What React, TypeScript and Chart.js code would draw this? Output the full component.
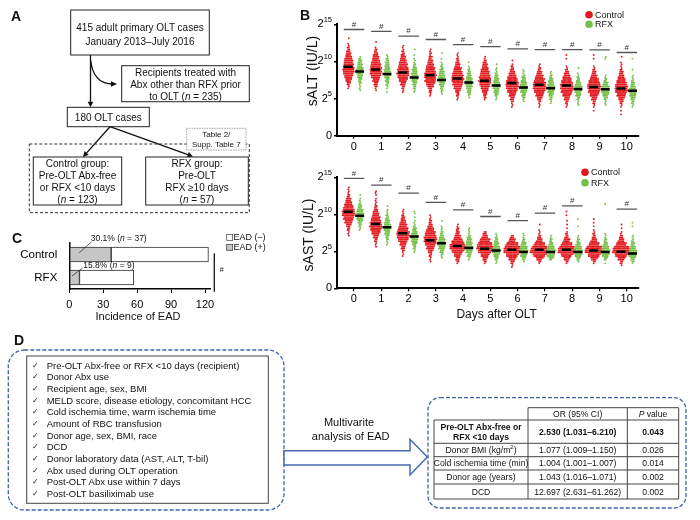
import React, { useEffect, useRef } from 'react';
import { Chart, registerables } from 'chart.js';
Chart.register(...registerables);

const FONT = '"Liberation Sans", Arial, Helvetica, sans-serif';

// ---------- Panel B data (values in log2 IU/L) ----------
const DAYS = [0, 1, 2, 3, 4, 5, 6, 7, 8, 9, 10];
const Y_TICKS = [0, 5, 10, 15];
const Y_EXPONENTS: (number | null)[] = [null, 5, 10, 15];

const ALT_CTRL_MEDIAN = [9.3, 8.9, 8.5, 8.15, 7.7, 7.4, 7.1, 6.85, 6.75, 6.55, 6.35];
const ALT_RFX_MEDIAN = [8.65, 8.3, 7.85, 7.5, 7.15, 6.75, 6.5, 6.4, 6.3, 6.25, 6.05];
const AST_CTRL_MEDIAN = [10.35, 8.7, 7.45, 6.5, 5.7, 5.35, 5.2, 5.2, 5.2, 5.1, 4.95];
const AST_RFX_MEDIAN = [9.8, 8.25, 7.0, 6.1, 5.45, 5.1, 4.9, 4.9, 4.9, 4.9, 4.7];

const ALT_SIG: (number | null)[] = [14.3, 14.05, 13.4, 12.95, 12.25, 12.0, 11.7, 11.6, 11.6, 11.55, 11.2];
const AST_SIG: (number | null)[] = [14.85, 13.95, 12.85, 11.6, 10.6, 9.7, 9.15, 10.15, 11.15, null, 10.7];

// dots per 0.25-high row: [lowest row value, count, count, ...]
const ALT_CTRL = [
  [6.375, 1, 1, 2, 3, 4, 5, 6, 7, 8, 9, 9, 9, 8, 8, 7, 7, 6, 5, 4, 4, 3, 2, 2, 1, 1, 0, 0, 1],
  [5.875, 0, 1, 1, 2, 3, 3, 5, 5, 7, 8, 9, 9, 9, 9, 8, 8, 7, 6, 5, 5, 4, 3, 2, 2, 1, 0, 0, 1],
  [5.875, 1, 1, 2, 2, 4, 4, 6, 7, 8, 9, 10, 9, 9, 8, 7, 7, 6, 5, 4, 4, 3, 2, 2, 1, 1, 1],
  [5.375, 1, 1, 2, 2, 3, 5, 6, 7, 9, 8, 9, 10, 9, 8, 7, 7, 6, 5, 4, 4, 2, 3, 1, 2, 1, 1],
  [4.875, 1, 1, 2, 2, 3, 4, 6, 6, 8, 8, 9, 10, 9, 9, 8, 7, 6, 6, 4, 4, 3, 2, 2, 1, 1, 1],
  [4.875, 1, 2, 2, 3, 4, 5, 6, 7, 8, 9, 10, 9, 9, 8, 7, 7, 6, 5, 4, 4, 3, 2, 1, 1],
  [3.875, 1, 1, 1, 2, 3, 3, 5, 5, 7, 8, 9, 10, 10, 10, 9, 8, 7, 6, 5, 4, 3, 2, 2, 1, 0, 1],
  [3.875, 1, 1, 1, 2, 3, 4, 6, 6, 8, 9, 10, 10, 10, 10, 8, 8, 6, 6, 4, 4, 2, 2, 1, 1],
  [3.875, 1, 1, 2, 2, 4, 4, 6, 7, 9, 9, 10, 10, 10, 9, 8, 7, 6, 5, 4, 3, 2, 1, 1, 0, 0, 0, 1, 0, 1],
  [3.375, 1, 0, 1, 1, 2, 2, 4, 4, 6, 7, 9, 9, 10, 11, 10, 9, 8, 7, 5, 5, 3, 3, 2, 1, 1, 0, 0, 0, 1, 0, 1],
  [2.875, 1, 0, 1, 0, 1, 1, 2, 3, 4, 5, 7, 7, 9, 10, 10, 10, 9, 8, 7, 6, 5, 4, 3, 3, 2, 1, 1, 1, 1, 0, 0, 1],
];
const ALT_RFX = [
  [5.875, 0, 1, 1, 1, 1, 2, 2, 3, 4, 4, 5, 5, 6, 5, 4, 4, 3, 3, 2, 1],
  [5.875, 1, 0, 1, 1, 2, 2, 3, 3, 4, 5, 5, 5, 5, 4, 4, 3, 3, 2, 2, 1, 1],
  [5.875, 1, 1, 2, 2, 3, 3, 4, 5, 6, 5, 5, 4, 4, 3, 2, 2, 1, 1, 1, 0, 1, 0, 0, 1],
  [5.375, 0, 1, 1, 2, 2, 3, 4, 4, 5, 6, 5, 5, 4, 4, 3, 2, 2, 1, 1, 0, 1, 0, 0, 1],
  [4.875, 0, 1, 1, 2, 3, 3, 4, 5, 5, 6, 5, 5, 4, 3, 3, 2, 2, 1, 1, 0, 1],
  [4.875, 1, 1, 2, 3, 4, 4, 5, 6, 6, 5, 4, 4, 3, 3, 2, 1, 1, 1, 0, 1],
  [4.375, 0, 1, 1, 2, 3, 3, 5, 5, 6, 6, 5, 5, 4, 3, 3, 2, 1, 1, 1],
  [4.375, 1, 1, 2, 2, 3, 4, 5, 5, 6, 6, 5, 4, 4, 3, 2, 2, 1, 1],
  [3.875, 0, 1, 1, 1, 2, 2, 4, 4, 5, 6, 6, 6, 5, 4, 3, 2, 2, 1, 1, 0, 0, 1],
  [3.875, 0, 1, 1, 1, 2, 3, 4, 5, 6, 6, 6, 6, 4, 4, 2, 2, 1, 1, 0, 0, 0, 0, 0, 0, 0, 0, 1, 1],
  [3.875, 1, 1, 2, 2, 3, 4, 5, 5, 6, 6, 5, 4, 3, 3, 2, 1, 1, 1, 0, 0, 1, 0, 0, 0, 0, 0, 1],
];
const AST_CTRL = [
  [6.875, 0, 1, 1, 1, 2, 2, 3, 4, 6, 6, 8, 8, 10, 10, 10, 9, 8, 7, 6, 5, 4, 4, 2, 2, 1, 1, 1, 1],
  [5.375, 0, 1, 1, 1, 2, 2, 4, 4, 6, 7, 8, 9, 10, 9, 9, 8, 7, 7, 5, 5, 4, 3, 2, 2, 1, 1, 1, 1, 0, 1, 1, 1],
  [4.375, 1, 1, 1, 2, 3, 3, 5, 5, 7, 8, 9, 10, 10, 10, 8, 8, 6, 6, 5, 4, 3, 3, 2, 1, 1, 1],
  [3.375, 0, 1, 1, 1, 2, 2, 3, 4, 6, 6, 8, 9, 10, 10, 10, 9, 8, 8, 6, 5, 4, 3, 2, 2, 1, 1, 1],
  [3.375, 1, 2, 3, 3, 5, 6, 8, 10, 12, 13, 12, 10, 9, 7, 5, 5, 3, 3, 2, 2, 1, 1],
  [3.375, 1, 2, 3, 4, 6, 7, 10, 11, 13, 13, 12, 11, 8, 8, 5, 4, 3, 2],
  [2.875, 1, 1, 2, 3, 5, 6, 9, 10, 13, 14, 13, 12, 10, 9, 5, 5, 3, 2],
  [3.375, 1, 2, 4, 6, 9, 11, 15, 15, 13, 12, 9, 8, 5, 4, 3, 2, 1, 1, 1, 0, 0, 1],
  [3.375, 1, 2, 4, 5, 8, 10, 14, 14, 13, 12, 9, 8, 5, 5, 3, 2, 2, 1, 0, 1, 0, 1, 0, 1, 0, 0, 1, 0, 1],
  [3.375, 1, 2, 4, 6, 9, 10, 14, 15, 13, 12, 8, 8, 5, 4, 3, 2, 2, 1, 1, 0, 1, 0, 1, 0, 1],
  [2.875, 0, 1, 2, 2, 5, 6, 9, 11, 14, 14, 13, 12, 8, 8, 5, 4, 3, 2, 1, 1, 0, 1, 0, 1],
];
const AST_RFX = [
  [7.875, 1, 1, 2, 2, 3, 4, 5, 5, 6, 6, 5, 5, 3, 3, 2, 1, 1, 1, 0, 1],
  [5.875, 1, 1, 1, 2, 2, 3, 4, 4, 5, 5, 5, 5, 4, 4, 3, 2, 2, 1, 1, 1, 0, 1],
  [4.875, 1, 1, 2, 2, 3, 4, 5, 5, 6, 5, 5, 4, 3, 3, 2, 1, 1, 1, 0, 1, 0, 1, 1],
  [3.875, 0, 1, 1, 2, 3, 3, 5, 5, 6, 6, 5, 5, 4, 3, 2, 2, 1, 1, 1, 0, 0, 1],
  [3.875, 1, 1, 3, 3, 5, 5, 6, 6, 5, 5, 4, 4, 3, 2, 1, 1, 1, 1],
  [3.375, 1, 1, 2, 3, 4, 5, 6, 7, 6, 5, 4, 4, 3, 2, 2, 1, 1],
  [3.375, 0, 1, 2, 3, 5, 5, 7, 7, 6, 6, 4, 4, 2, 2, 1, 1, 1],
  [3.875, 2, 4, 6, 6, 7, 8, 6, 5, 4, 3, 2, 2, 1, 1],
  [3.375, 0, 1, 2, 3, 5, 6, 7, 7, 6, 5, 4, 3, 2, 2, 1, 1, 0, 0, 0, 0, 1, 0, 0, 0, 1],
  [3.375, 1, 0, 2, 3, 5, 6, 7, 7, 6, 5, 4, 3, 2, 2, 1, 1, 1, 0, 0, 0, 0, 0, 0, 0, 0, 0, 0, 0, 0, 0, 0, 0, 1],
  [3.375, 1, 2, 3, 4, 6, 6, 7, 6, 5, 4, 3, 3, 2, 1, 1, 1, 0, 0, 0, 0, 1, 0, 1],
];

// ---------- Panel C data ----------
const EAD_GROUPS = ['Control', 'RFX'];
const EAD_POS = [37, 9];
const EAD_NEG = [86, 48];
const C_TICKS = [0, 30, 60, 90, 120];

// ---------- Panel D data ----------
const D_FACTORS = [
  'Pre-OLT Abx-free or RFX <10 days (recipient)',
  'Donor Abx use',
  'Recipient age, sex, BMI',
  'MELD score, disease etiology, concomitant HCC',
  'Cold ischemia time, warm ischemia time',
  'Amount of RBC transfusion',
  'Donor age, sex, BMI, race',
  'DCD',
  'Donor laboratory data (AST, ALT, T-bil)',
  'Abx used during OLT operation',
  'Post-OLT Abx use within 7 days',
  'Post-OLT basiliximab use',
];
const OR_VALUES = ['2.530 (1.031–6.210)', '1.077 (1.009–1.150)', '1.004 (1.001–1.007)', '1.043 (1.016–1.071)', '12.697 (2.631–61.262)'];
const P_VALUES = ['0.043', '0.026', '0.014', '0.002', '0.002'];

const RED = '#e3191f';
const GREEN = '#74bf45';
const ROW = 0.25;
const DX = 0.046;
const OFF_C = -0.21;
const OFF_R = 0.21;

function dotPoints(rows: number[][], off: number) {
  const pts: { x: number; y: number }[] = [];
  rows.forEach((row, d) => {
    const start = row[0];
    for (let r = 1; r < row.length; r++) {
      const n = row[r];
      const y = start + (r - 1) * ROW;
      const shift = r % 2 === 0 ? DX / 2 : 0;
      for (let i = 0; i < n; i++) pts.push({ x: DAYS[d] + off + shift + (i - (n - 1) / 2) * DX, y });
    }
  });
  return pts;
}

const expTicks = {
  id: 'expTicks',
  afterDraw(chart: any, _a: any, opts: any) {
    const { ctx, chartArea, scales } = chart;
    const y = scales.y;
    const x = scales.x;
    ctx.save();
    ctx.fillStyle = '#000';
    ctx.textBaseline = 'middle';
    const right = chartArea.left - 5;
    Y_TICKS.forEach((v, i) => {
      const py = y.getPixelForValue(v);
      const e = Y_EXPONENTS[i];
      if (e === null) {
        ctx.font = `11px ${FONT}`;
        ctx.textAlign = 'right';
        ctx.fillText('0', right, py);
        return;
      }
      ctx.font = `7.5px ${FONT}`;
      const ew = ctx.measureText(String(e)).width;
      ctx.textAlign = 'left';
      ctx.fillText(String(e), right - ew, py - 4.5);
      ctx.font = `11px ${FONT}`;
      ctx.textAlign = 'right';
      ctx.fillText('2', right - ew, py);
    });
    ctx.font = `8px ${FONT}`;
    ctx.textAlign = 'center';
    ctx.fillStyle = '#333';
    (opts.sig as (number | null)[]).forEach((s, d) => {
      if (s == null) return;
      ctx.fillText('#', x.getPixelForValue(DAYS[d]), y.getPixelForValue(s) - 5);
    });
    ctx.restore();
  },
};

function makeDotChart(
  canvas: HTMLCanvasElement,
  ctrl: number[][],
  rfx: number[][],
  ctrlMed: number[],
  rfxMed: number[],
  sig: (number | null)[],
  padTop: number,
  padBottom: number
) {
  const sigSets: any[] = [];
  sig.forEach((s, d) => {
    if (s == null) return;
    sigSets.push({
      type: 'scatter',
      data: [{ x: DAYS[d] - 0.37, y: s }, { x: DAYS[d] + 0.38, y: s }],
      showLine: true,
      borderColor: '#555',
      borderWidth: 1.3,
      pointRadius: 0,
      order: 2,
    });
  });
  return new Chart(canvas, {
    type: 'scatter',
    data: {
      datasets: [
        { data: dotPoints(ctrl, OFF_C), backgroundColor: RED, borderWidth: 0, pointRadius: 0.95, order: 4 },
        { data: dotPoints(rfx, OFF_R), backgroundColor: GREEN, borderWidth: 0, pointRadius: 0.95, order: 3 },
        {
          data: DAYS.map((d, i) => ({ x: d + OFF_C, y: ctrlMed[i] })),
          pointStyle: 'line', pointRadius: 4.5, borderColor: '#000', borderWidth: 2.5, order: 1,
        },
        {
          data: DAYS.map((d, i) => ({ x: d + OFF_R, y: rfxMed[i] })),
          pointStyle: 'line', pointRadius: 4.5, borderColor: '#000', borderWidth: 2.5, order: 1,
        },
        ...sigSets,
      ],
    } as any,
    options: {
      responsive: false,
      animation: false,
      events: [],
      layout: { padding: { left: 0, right: 11, top: padTop, bottom: padBottom } },
      plugins: { legend: { display: false }, tooltip: { enabled: false }, expTicks: { sig } } as any,
      scales: {
        x: {
          type: 'linear', min: -0.62, max: 10.45,
          afterBuildTicks: (s: any) => { s.ticks = DAYS.map((v) => ({ value: v })); },
          ticks: { color: '#000', font: { size: 11 }, padding: 1.5, maxRotation: 0, callback: (v: any) => String(v) },
          grid: { display: true, drawOnChartArea: false, drawTicks: true, tickLength: 3, color: '#000', lineWidth: 1.2 },
          border: { color: '#000', width: 2 },
          afterFit: (s: any) => { s.height = 20; },
        },
        y: {
          type: 'linear', min: 0, max: 15,
          afterBuildTicks: (s: any) => { s.ticks = Y_TICKS.map((v) => ({ value: v })); },
          ticks: { callback: () => '' },
          grid: { display: true, drawOnChartArea: false, drawTicks: true, tickLength: 3, color: '#000', lineWidth: 1.5 },
          border: { color: '#000', width: 2 },
          afterFit: (s: any) => { s.width = 47; },
        },
      } as any,
    },
    plugins: [expTicks],
  } as any);
}

function makeBarChart(canvas: HTMLCanvasElement) {
  return new Chart(canvas, {
    type: 'bar',
    data: {
      labels: EAD_GROUPS,
      datasets: [
        { label: 'EAD (+)', data: EAD_POS, backgroundColor: '#c6c6c6', borderColor: '#333', borderWidth: 1, barThickness: 15, borderSkipped: false },
        { label: 'EAD (–)', data: EAD_NEG, backgroundColor: '#ffffff', borderColor: '#333', borderWidth: 1, barThickness: 15, borderSkipped: false },
      ],
    },
    options: {
      indexAxis: 'y',
      responsive: false,
      animation: false,
      events: [],
      layout: { padding: { left: 0, right: 19.3, top: 11, bottom: 0 } },
      plugins: { legend: { display: false }, tooltip: { enabled: false } },
      scales: {
        x: {
          stacked: true, min: 0, max: 125,
          afterBuildTicks: (s: any) => { s.ticks = C_TICKS.map((v) => ({ value: v })); },
          ticks: { color: '#000', font: { size: 11 }, padding: 5, maxRotation: 0 },
          grid: { display: true, drawOnChartArea: false, drawTicks: true, tickLength: 4, color: '#000', lineWidth: 1 },
          border: { color: '#000', width: 1.5 },
          afterFit: (s: any) => { s.height = 33; },
        },
        y: {
          stacked: true,
          grid: { display: false },
          ticks: { color: '#000', font: { size: 11.5 }, padding: 4 },
          border: { color: '#000', width: 1.5 },
          afterFit: (s: any) => { s.width = 69.3; },
        },
      } as any,
    },
  } as any);
}

function T(props: { x: number; y: number; size?: number; anchor?: string; weight?: string; fill?: string; children: any }) {
  const { x, y, size = 10, anchor = 'middle', weight = 'normal', fill = '#111', children } = props;
  return (
    <text x={x} y={y} fontSize={size} textAnchor={anchor as any} fontWeight={weight} fill={fill} dominantBaseline="central" fontFamily={FONT}>
      {children}
    </text>
  );
}

function Arrow({ x1, y1, x2, y2 }: { x1: number; y1: number; x2: number; y2: number }) {
  const dx = x2 - x1, dy = y2 - y1;
  const len = Math.hypot(dx, dy);
  const ux = dx / len, uy = dy / len;
  const hl = 5.5, hw = 2.8;
  const bx = x2 - ux * hl, by = y2 - uy * hl;
  const p1 = `${bx - uy * hw},${by + ux * hw}`;
  const p2 = `${bx + uy * hw},${by - ux * hw}`;
  return (
    <g>
      <line x1={x1} y1={y1} x2={bx} y2={by} stroke="#111" strokeWidth={1.3} />
      <polygon points={`${x2},${y2} ${p1} ${p2}`} fill="#111" />
    </g>
  );
}

const I = ({ children }: { children: any }) => <tspan fontStyle="italic">{children}</tspan>;

export default function App() {
  const topRef = useRef<HTMLCanvasElement>(null);
  const botRef = useRef<HTMLCanvasElement>(null);
  const cRef = useRef<HTMLCanvasElement>(null);

  useEffect(() => {
    Chart.defaults.font.family = FONT;
    const charts = [
      makeDotChart(topRef.current!, ALT_CTRL, ALT_RFX, ALT_CTRL_MEDIAN, ALT_RFX_MEDIAN, ALT_SIG, 24.3, 4.3),
      makeDotChart(botRef.current!, AST_CTRL, AST_RFX, AST_CTRL_MEDIAN, AST_RFX_MEDIAN, AST_SIG, 17.3, 11.7),
      makeBarChart(cRef.current!),
    ];
    return () => charts.forEach((c) => c.destroy());
  }, []);

  const rowB = [420, 443.3, 456.7, 470, 484, 499];
  const tblL = 434, c1 = 528, c2 = 627.3, tblR = 678.7, tblT = 407.7;
  const blue = '#4163aa';

  return (
    <div style={{ position: 'absolute', left: 0, top: 0, width: 700, height: 520, background: '#fff', overflow: 'hidden', fontFamily: FONT }}>
      <canvas ref={topRef} width={360} height={160} style={{ position: 'absolute', left: 290, top: 0, width: 360, height: 160 }} />
      <canvas ref={botRef} width={360} height={160} style={{ position: 'absolute', left: 290, top: 160, width: 360, height: 160 }} />
      <canvas ref={cRef} width={230} height={90} style={{ position: 'absolute', left: 0, top: 232, width: 230, height: 90 }} />
      <svg width={700} height={520} style={{ position: 'absolute', left: 0, top: 0, pointerEvents: 'none' }}>
        {/* Panel labels */}
        <T x={16} y={16} size={14} weight="bold">A</T>
        <T x={305} y={15} size={14} weight="bold">B</T>
        <T x={17} y={238} size={14} weight="bold">C</T>
        <T x={19} y={340} size={14} weight="bold">D</T>

        {/* ---------- Panel A ---------- */}
        <rect x={70.7} y={10} width={138.6} height={45} fill="#fff" stroke="#222" strokeWidth={1} />
        <T x={140} y={27.7}>415 adult primary OLT cases</T>
        <T x={140} y={41}>January 2013–July 2016</T>
        <Arrow x1={90.5} y1={55} x2={90.5} y2={107.3} />
        <path d="M90.6 60 Q93 83 111.5 84" fill="none" stroke="#111" strokeWidth={1.3} />
        <polygon points="117,84 111,81.2 111,86.8" fill="#111" />
        <rect x={121.7} y={65.7} width={127.6} height={36} fill="#fff" stroke="#222" strokeWidth={1} />
        <T x={185.5} y={72.7}>Recipients treated with</T>
        <T x={185.5} y={84.3}>Abx other than RFX prior</T>
        <T x={185.5} y={96.2}>to OLT (<I>n</I> = 235)</T>
        <rect x={67.3} y={107.3} width={82} height={19.4} fill="#fff" stroke="#222" strokeWidth={1} />
        <T x={108.3} y={117.3}>180 OLT cases</T>
        <Arrow x1={110} y1={126.7} x2={83} y2={157} />
        <Arrow x1={110} y1={126.7} x2={193} y2={156.5} />
        <rect x={29.3} y={144} width={220} height={68.7} fill="none" stroke="#333" strokeWidth={1} strokeDasharray="3,2" />
        <rect x={186.7} y={128.3} width={59.3} height={21.7} fill="#fff" stroke="#888" strokeWidth={0.8} strokeDasharray="1.5,1" />
        <T x={216.3} y={134.3} size={8}>Table 2/</T>
        <T x={216.3} y={144.3} size={8}>Supp. Table 7</T>
        <rect x={33.3} y={157} width={88.4} height={48} fill="#fff" stroke="#222" strokeWidth={1} />
        <T x={77.5} y={163.5}>Control group:</T>
        <T x={77.5} y={175.5}>Pre-OLT Abx-free</T>
        <T x={77.5} y={187.3}>or RFX &lt;10 days</T>
        <T x={77.5} y={199}>(<I>n</I> = 123)</T>
        <rect x={145.7} y={157} width={102.6} height={48} fill="#fff" stroke="#222" strokeWidth={1} />
        <T x={197} y={163.5}>RFX group:</T>
        <T x={197} y={175.5}>Pre-OLT</T>
        <T x={197} y={187.3}>RFX ≥10 days</T>
        <T x={197} y={199}>(<I>n</I> = 57)</T>

        {/* ---------- Panel B extras ---------- */}
        <text x={312} y={71} fontSize={14} fontFamily={FONT} fill="#111" textAnchor="middle" dominantBaseline="central" transform="rotate(-90 312 71)">sALT (IU/L)</text>
        <text x={308} y={235} fontSize={14} fontFamily={FONT} fill="#111" textAnchor="middle" dominantBaseline="central" transform="rotate(-90 308 235)">sAST (IU/L)</text>
        <T x={496.7} y={314} size={12}>Days after OLT</T>
        <circle cx={589} cy={14.7} r={3.8} fill={RED} />
        <circle cx={589} cy={24.3} r={3.8} fill={GREEN} />
        <T x={595} y={14.7} size={9} anchor="start">Control</T>
        <T x={595} y={24.3} size={9} anchor="start">RFX</T>
        <circle cx={585} cy={172.3} r={3.8} fill={RED} />
        <circle cx={585} cy={182.7} r={3.8} fill={GREEN} />
        <T x={591} y={172.3} size={9} anchor="start">Control</T>
        <T x={591} y={182.7} size={9} anchor="start">RFX</T>

        {/* ---------- Panel C extras ---------- */}
        <T x={138} y={316} size={11}>Incidence of EAD</T>
        <T x={90.7} y={238.3} size={8.5} anchor="start">30.1% (<I>n</I> = 37)</T>
        <line x1={91.7} y1={241.7} x2={79.3} y2={252.7} stroke="#333" strokeWidth={0.8} />
        <T x={83.3} y={265} size={8.5} anchor="start">15.8% (<I>n</I> = 9)</T>
        <line x1={82.5} y1={268} x2={72} y2={276} stroke="#333" strokeWidth={0.8} />
        <line x1={214.3} y1={253.3} x2={214.3} y2={291.7} stroke="#111" strokeWidth={1.3} />
        <T x={221.7} y={269.3} size={7}>#</T>
        <rect x={226.7} y={234.3} width={6} height={6} fill="#fff" stroke="#333" strokeWidth={0.7} />
        <rect x={226.7} y={244.3} width={6} height={6} fill="#c6c6c6" stroke="#333" strokeWidth={0.7} />
        <T x={233.5} y={237.3} size={9} anchor="start">EAD (–)</T>
        <T x={233.5} y={247.3} size={9} anchor="start">EAD (+)</T>

        {/* ---------- Panel D ---------- */}
        <rect x={8.3} y={350} width={275.7} height={160} rx={16} fill="none" stroke={blue} strokeWidth={1.3} strokeDasharray="4,2" />
        <rect x={26.7} y={356} width={241.6} height={147.3} fill="#fff" stroke="#444" strokeWidth={1} />
        {D_FACTORS.map((f, i) => (
          <g key={f}>
            <T x={35} y={365 + i * 11.67} size={8} >✓</T>
            <T x={46.7} y={365 + i * 11.67} size={9.5} anchor="start">{f}</T>
          </g>
        ))}
        <T x={349} y={421.7} size={11}>Multivarite</T>
        <T x={350.7} y={435.7} size={11}>analysis of EAD</T>
        <polygon points="284,450.7 410,450.7 410,439.3 427.3,457 410,475 410,465 284,465" fill="#fff" stroke="#4a68b0" strokeWidth={1.5} />
        <rect x={428} y={397.7} width={258} height={110.3} rx={12} fill="none" stroke={blue} strokeWidth={1.3} strokeDasharray="4,2" />

        {/* table */}
        <g stroke="#444" strokeWidth={1} fill="none">
          <line x1={c1} y1={tblT} x2={tblR} y2={tblT} />
          <line x1={tblL} y1={rowB[0]} x2={tblR} y2={rowB[0]} />
          {rowB.slice(1).map((y) => <line key={y} x1={tblL} y1={y} x2={tblR} y2={y} />)}
          <line x1={tblL} y1={rowB[0]} x2={tblL} y2={rowB[5]} />
          <line x1={c1} y1={tblT} x2={c1} y2={rowB[5]} />
          <line x1={c2} y1={tblT} x2={c2} y2={rowB[5]} />
          <line x1={tblR} y1={tblT} x2={tblR} y2={rowB[5]} />
        </g>
        <T x={577.7} y={413.5} size={8.6}>OR (95% CI)</T>
        <T x={653} y={413.5} size={8.6}><I>P</I> value</T>
        <T x={481} y={426.7} size={8.6} weight="bold">Pre-OLT Abx-free or</T>
        <T x={481} y={437} size={8.6} weight="bold">RFX &lt;10 days</T>
        <T x={481} y={450} size={8.6}>Donor BMI (kg/m<tspan fontSize={6} dy={-3}>2</tspan><tspan dy={3}>)</tspan></T>
        <T x={481} y={463.3} size={8.6}>Cold ischemia time (min)</T>
        <T x={481} y={477} size={8.6}>Donor age (years)</T>
        <T x={481} y={491.5} size={8.6}>DCD</T>
        {OR_VALUES.map((v, i) => {
          const y = (rowB[i] + rowB[i + 1]) / 2;
          return (
            <g key={v}>
              <T x={577.7} y={y} size={8.6} weight={i === 0 ? 'bold' : 'normal'}>{v}</T>
              <T x={653} y={y} size={8.6} weight={i === 0 ? 'bold' : 'normal'}>{P_VALUES[i]}</T>
            </g>
          );
        })}
      </svg>
    </div>
  );
}
